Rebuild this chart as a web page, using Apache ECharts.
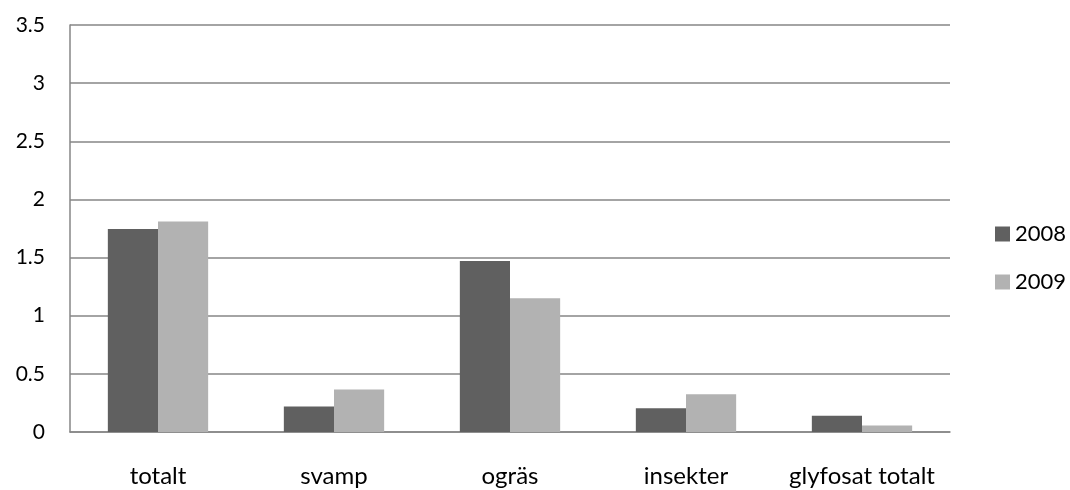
<!DOCTYPE html>
<html>
<head>
<meta charset="utf-8">
<script src="https://cdn.jsdelivr.net/npm/echarts@6/dist/echarts.min.js"></script>
<style>html,body{margin:0;padding:0;background:#fff}#c{width:1070px;height:490px}</style>
</head>
<body>
<div id="c"></div>
<script>
const categories = ['totalt', 'svamp', 'ogräs', 'insekter', 'glyfosat totalt'];
const series2008 = [1.745, 0.22, 1.47, 0.205, 0.14];
const series2009 = [1.81, 0.365, 1.15, 0.325, 0.055];
const yTicks = { min: 0, max: 3.5, interval: 0.5 };
const FONT = "Lato, 'Liberation Sans', sans-serif";

const chart = echarts.init(document.getElementById('c'), null, { renderer: 'canvas' });
chart.setOption({
  animation: false,
  backgroundColor: '#ffffff',
  textStyle: { fontFamily: FONT },
  grid: { left: 70, right: 120, top: 25, bottom: 58, containLabel: false },
  legend: {
    orient: 'vertical',
    left: 990,
    top: 218,
    itemWidth: 15,
    itemHeight: 15,
    itemGap: 26,
    icon: 'rect',
    textStyle: { fontFamily: FONT, fontSize: 22, color: '#000' },
    data: ['2008', '2009']
  },
  xAxis: {
    type: 'category',
    data: categories,
    axisLine: { lineStyle: { color: '#868686', width: 1.5 } },
    axisTick: { show: false },
    axisLabel: { fontFamily: FONT, fontSize: 24, color: '#000', margin: 32, interval: 0 },
    splitLine: { show: false }
  },
  yAxis: {
    type: 'value',
    min: yTicks.min,
    max: yTicks.max,
    interval: yTicks.interval,
    axisLine: { show: true, lineStyle: { color: '#868686', width: 1.5 } },
    axisTick: { show: false },
    axisLabel: { fontFamily: FONT, fontSize: 21, color: '#000', margin: 25, formatter: v => String(v) },
    splitLine: { lineStyle: { color: '#868686', width: 1.5 } }
  },
  series: [
    { name: '2008', type: 'bar', data: series2008, barGap: '0%', barCategoryGap: '43%',
      itemStyle: { color: '#606060' } },
    { name: '2009', type: 'bar', data: series2009, barGap: '0%', barCategoryGap: '43%',
      itemStyle: { color: '#b2b2b2' } }
  ]
});
</script>
</body>
</html>
